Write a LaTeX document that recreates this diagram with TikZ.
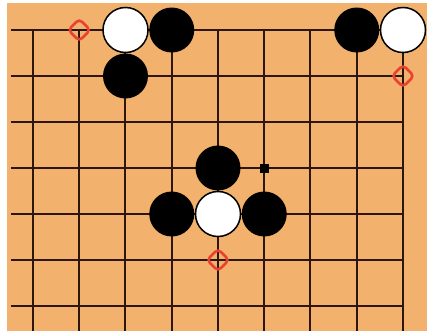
\documentclass[tikz,border=0pt]{standalone}
\usetikzlibrary{shapes.geometric}
\definecolor{board}{RGB}{242,177,108}
\definecolor{gridline}{RGB}{45,22,14}
\definecolor{markred}{RGB}{234,66,48}

\begin{document}
\begin{tikzpicture}[x=46.25pt, y=-46pt,
    stone/.style={circle, minimum size=45pt, inner sep=0pt},
    blackstone/.style={stone, fill=black},
    whitestone/.style={stone, fill=white, draw=black, line width=1.5pt},
    marker/.style={diamond, rounded corners=4pt, draw=markred,
        line width=2.6pt, minimum size=23pt, inner sep=0pt},
    lastmove/.style={rectangle, fill=black, minimum size=9pt, inner sep=0pt}]
    \useasboundingbox (-0.7135,-0.6522) rectangle (8.519,6.587);
    \fill[board] (-0.5622,-0.587) rectangle (8.519,6.543);

    % board lines
    \foreach \r in {0,...,6}
        \draw[gridline, line width=2pt] (-0.4757,\r) -- (8,\r);
    \foreach \c in {0,...,8}
        \draw[gridline, line width=2pt] (\c,0) -- (\c,6.543);

    % stones
    \node[whitestone] (w1) at (2,0) {};
    \node[blackstone] (b1) at (3,0) {};
    \node[blackstone] (b2) at (2,1) {};
    \node[blackstone] (b3) at (7,0) {};
    \node[whitestone] (w2) at (8,0) {};
    \node[blackstone] (b4) at (4,3) {};
    \node[blackstone] (b5) at (3,4) {};
    \node[blackstone] (b6) at (5,4) {};
    \node[whitestone] (w3) at (4,4) {};

    % marks
    \node[lastmove] (sq) at (5,3) {};
    \node[marker] (m1) at (1,0) {};
    \node[marker] (m2) at (8,1) {};
    \node[marker] (m3) at (4,5) {};
\end{tikzpicture}
\end{document}
